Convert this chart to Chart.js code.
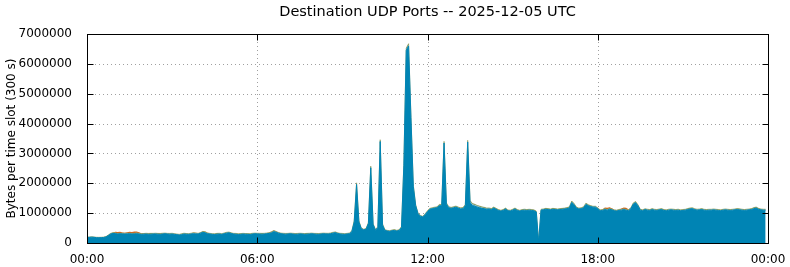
<!DOCTYPE html>
<html>
<head>
<meta charset="utf-8">
<script src="https://cdn.jsdelivr.net/npm/chart.js@4.4.1/dist/chart.umd.min.js"></script>
<style>
html, body { margin: 0; padding: 0; background: #fff; }
</style>
</head>
<body>
<canvas id="myChart" width="790" height="267"></canvas>
<script>
// 5-minute slots (288 per day), values in kilobytes per slot
const slotTicks = [0, 72, 144, 216, 288];
const tickLabels = ['00:00', '06:00', '12:00', '18:00', '00:00'];
const yTicks = [0, 1000000, 2000000, 3000000, 4000000, 5000000, 6000000, 7000000];

const blueK = [
  185,190,195,190,180,175,180,185,200,250,300,320,
  315,300,310,305,300,305,310,300,305,310,300,290,
  295,300,290,295,300,305,295,290,300,310,300,295,
  300,290,280,265,280,300,295,290,300,310,305,300,
  330,360,340,310,300,290,285,295,300,290,310,330,
  340,320,300,295,285,290,300,295,290,285,300,310,
  305,300,295,300,310,320,340,380,360,330,310,300,
  295,300,310,300,290,295,305,300,290,295,300,310,
  300,295,290,300,310,305,300,310,330,345,320,300,
  295,290,300,310,380,700,1960,700,480,440,460,650,
  2520,620,430,520,3400,600,420,400,390,410,420,400,
  420,520,2600,6450,6600,4200,1900,1250,980,900,870,950,
  1050,1130,1150,1170,1180,1250,1250,3350,1300,1180,1160,1180,
  1200,1170,1140,1150,1250,3380,1350,1250,1230,1200,1180,1160,
  1150,1130,1140,1120,1170,1130,1090,1070,1090,1140,1080,1070,
  1100,1140,1090,1070,1090,1100,1090,1100,1090,1080,1040,30,
  1100,1110,1130,1120,1110,1130,1120,1110,1120,1130,1140,1150,
  1180,1360,1280,1170,1140,1150,1180,1290,1250,1220,1200,1200,
  1150,1080,1090,1120,1100,1130,1110,1080,1070,1090,1100,1120,
  1100,1080,1150,1300,1350,1250,1100,1080,1120,1100,1090,1120,
  1100,1090,1110,1120,1090,1080,1100,1110,1100,1090,1100,1080,
  1090,1100,1120,1140,1150,1120,1100,1110,1120,1100,1090,1100,
  1100,1110,1100,1090,1080,1100,1110,1100,1090,1100,1110,1120,
  1110,1100,1090,1100,1110,1120,1150,1170,1130,1110,1100,1100
];

const skyK = [
  5,5,5,5,5,5,5,5,5,5,8,10,
  10,10,8,8,10,10,10,8,8,10,10,8,
  8,8,10,10,8,8,8,10,10,8,8,8,
  8,8,8,8,10,10,8,8,10,15,10,8,
  8,10,15,10,8,8,8,8,8,8,10,10,
  10,8,8,8,8,8,8,8,8,8,8,8,
  8,8,8,8,10,10,15,15,10,8,8,8,
  8,8,8,8,8,8,8,8,8,8,8,8,
  8,8,8,8,8,8,8,8,10,10,8,8,
  8,8,8,8,10,15,20,15,10,8,8,10,
  20,10,8,10,20,10,8,8,8,8,8,8,
  8,10,20,30,30,20,15,10,10,10,10,10,
  10,10,10,10,10,15,15,20,20,15,15,15,
  15,15,15,15,15,25,40,50,45,40,35,30,
  25,20,15,12,10,10,10,10,10,10,10,10,
  10,10,10,10,10,10,10,10,10,10,10,5,
  10,10,10,10,10,10,10,10,10,10,10,10,
  10,15,15,10,10,10,10,15,10,10,10,10,
  10,10,10,10,10,10,10,10,10,10,10,10,
  10,10,10,15,15,10,10,10,10,10,10,10,
  10,10,10,10,10,10,10,10,10,10,10,10,
  10,10,10,10,10,10,10,10,10,10,10,10,
  10,10,10,10,10,10,10,10,10,10,10,10,
  10,10,10,10,10,10,10,10,10,10,10,10
];

const greenK = [
  8,8,10,8,8,10,8,8,10,12,15,18,
  18,15,15,18,20,18,15,15,18,20,18,15,
  15,18,20,18,15,15,18,20,18,15,15,18,
  18,15,15,18,20,18,15,15,18,20,22,18,
  15,18,20,18,15,15,18,20,18,15,15,18,
  18,15,15,18,20,18,15,15,18,20,18,15,
  15,18,20,18,15,15,18,20,18,15,15,18,
  18,15,15,18,20,18,15,15,18,20,18,15,
  15,18,20,18,15,15,18,20,18,15,15,18,
  18,15,15,18,20,30,35,25,18,15,15,25,
  35,20,15,18,40,25,18,15,15,18,20,18,
  18,20,35,45,45,35,25,20,18,15,15,18,
  20,22,22,20,22,25,22,35,25,22,20,22,
  22,20,22,22,25,35,30,25,22,20,22,20,
  20,22,20,22,25,22,20,20,22,20,18,20,
  20,22,20,18,20,22,20,20,22,20,18,5,
  20,22,20,22,20,20,22,20,22,20,22,25,
  25,30,25,22,20,22,25,30,25,22,20,22,
  22,20,22,25,22,20,22,20,22,25,22,20,
  22,20,22,25,25,22,20,22,20,22,20,22,
  20,22,20,22,20,20,22,20,22,20,22,20,
  22,20,22,25,22,20,22,20,22,20,22,20,
  20,22,20,22,20,20,22,20,22,20,22,25,
  25,22,20,22,20,22,25,25,22,20,22,20
];

const orangeK = [
  0,0,0,0,0,0,0,0,0,0,0,5,
  30,45,40,20,10,25,40,45,50,45,30,10,
  5,5,10,5,0,0,5,10,5,0,0,0,
  0,0,0,0,0,0,0,0,0,5,5,0,
  0,5,10,5,0,0,0,0,0,0,0,0,
  0,0,0,0,0,0,0,0,0,0,0,0,
  0,0,0,0,0,5,10,10,5,0,0,0,
  0,0,0,0,0,0,0,0,0,0,0,0,
  0,0,0,0,0,0,0,0,5,5,0,0,
  0,0,0,0,0,5,10,5,0,0,0,0,
  10,0,0,0,20,5,0,0,0,0,0,0,
  0,0,5,10,10,5,0,0,0,0,0,0,
  0,0,0,0,0,0,0,5,0,0,0,0,
  0,0,0,0,0,5,0,0,0,0,0,0,
  0,0,0,0,0,0,0,0,0,0,0,0,
  0,0,0,0,0,0,0,0,0,0,0,0,
  0,0,0,0,0,0,0,0,0,0,0,0,
  0,0,0,0,0,0,0,0,0,0,0,0,
  0,0,0,30,45,40,25,5,0,0,20,40,
  45,20,0,0,0,0,0,0,0,0,0,0,
  0,0,0,0,0,0,0,0,0,0,0,0,
  0,0,0,0,0,0,0,0,0,0,0,0,
  0,0,0,0,0,0,0,0,0,0,0,0,
  0,0,0,0,0,0,0,0,0,0,0,0
];

function toPoints(arr) {
  return arr.map(function(v, i) { return { x: i, y: v * 1000 }; });
}

const FONT = "'DejaVu Sans', sans-serif";

// gnuplot-like frame: dotted grid, black border, inward ticks, titles
const frame = {
  id: 'frame',
  beforeDatasetsDraw: function(chart) {
    const ctx = chart.ctx, a = chart.chartArea;
    const xs = chart.scales.x, ys = chart.scales.y;
    ctx.save();
    ctx.strokeStyle = '#a0a0a0';
    ctx.lineWidth = 1;
    ctx.setLineDash([1, 3]);
    yTicks.slice(1, -1).forEach(function(v) {
      const py = Math.round(ys.getPixelForValue(v)) + 0.5;
      ctx.beginPath(); ctx.moveTo(a.left, py); ctx.lineTo(a.right, py); ctx.stroke();
    });
    slotTicks.slice(1, -1).forEach(function(v) {
      const px = Math.round(xs.getPixelForValue(v)) + 0.5;
      ctx.beginPath(); ctx.moveTo(px, a.top); ctx.lineTo(px, a.bottom); ctx.stroke();
    });
    ctx.restore();
  },
  afterDatasetsDraw: function(chart) {
    const ctx = chart.ctx, a = chart.chartArea;
    const xs = chart.scales.x, ys = chart.scales.y;
    const L = Math.round(a.left) + 0.5, R = Math.round(a.right) + 0.5;
    const T = Math.round(a.top) + 0.5, B = Math.round(a.bottom) + 0.5;
    ctx.save();
    ctx.strokeStyle = '#000';
    ctx.lineWidth = 1;
    ctx.beginPath();
    yTicks.forEach(function(v) {
      const py = Math.round(ys.getPixelForValue(v)) + 0.5;
      ctx.moveTo(L, py); ctx.lineTo(L + 6, py);
      ctx.moveTo(R, py); ctx.lineTo(R - 6, py);
    });
    slotTicks.forEach(function(v) {
      const px = Math.round(xs.getPixelForValue(v)) + 0.5;
      ctx.moveTo(px, B); ctx.lineTo(px, B - 6);
      ctx.moveTo(px, T); ctx.lineTo(px, T + 6);
    });
    ctx.stroke();
    ctx.strokeRect(L, T, R - L, B - T);
    ctx.restore();
  },
  afterDraw: function(chart) {
    const ctx = chart.ctx, a = chart.chartArea;
    ctx.save();
    ctx.fillStyle = '#000';
    ctx.textAlign = 'center';
    ctx.textBaseline = 'middle';
    ctx.font = '14.5px ' + FONT;
    ctx.fillText('Destination UDP Ports -- 2025-12-05 UTC', (a.left + a.right) / 2, 12);
    ctx.translate(12, (a.top + a.bottom) / 2);
    ctx.rotate(-Math.PI / 2);
    ctx.font = '12px ' + FONT;
    ctx.fillText('Bytes per time slot (300 s)', 0, 0);
    ctx.restore();
  }
};

document.addEventListener("DOMContentLoaded", function() {
  var ctx = document.getElementById('myChart').getContext('2d');
  new Chart(ctx, {
    type: 'line',
    data: {
      datasets: [
        { label: 'main', data: toPoints(blueK), backgroundColor: '#0084b4', borderColor: '#0084b4', borderWidth: 1, fill: 'origin' },
        { label: 'sky', data: toPoints(skyK), backgroundColor: '#6fb0c8', borderColor: '#6fb0c8', borderWidth: 0, fill: '-1' },
        { label: 'green', data: toPoints(greenK), backgroundColor: '#7a8f4a', borderColor: '#7a8f4a', borderWidth: 0.6, fill: '-1' },
        { label: 'orange', data: toPoints(orangeK), backgroundColor: '#d8641c', borderColor: 'rgba(0,0,0,0)', borderWidth: 0, fill: '-1' }
      ]
    },
    options: {
      responsive: false,
      animation: false,
      layout: { padding: { left: 0, right: 22, top: 34, bottom: 0 } },
      elements: { point: { radius: 0 }, line: { tension: 0 } },
      plugins: { legend: { display: false }, tooltip: { enabled: false }, title: { display: false } },
      scales: {
        x: {
          type: 'linear',
          min: 0,
          max: 288,
          grid: { display: false },
          border: { display: false },
          afterFit: function(s) { s.height = 24; },
          afterBuildTicks: function(s) { s.ticks = slotTicks.map(function(v) { return { value: v }; }); },
          ticks: {
            autoSkip: false,
            maxRotation: 0,
            padding: 2,
            color: '#000',
            font: { family: FONT, size: 12 },
            callback: function(v) { return tickLabels[slotTicks.indexOf(v)]; }
          }
        },
        y: {
          stacked: true,
          min: 0,
          max: 7000000,
          grid: { display: false },
          border: { display: false },
          afterFit: function(s) { s.width = 87; },
          afterBuildTicks: function(s) { s.ticks = yTicks.map(function(v) { return { value: v }; }); },
          ticks: {
            padding: 7,
            color: '#000',
            font: { family: FONT, size: 12 },
            callback: function(v) { return String(v); }
          }
        }
      }
    },
    plugins: [frame]
  });
});
</script>
</body>
</html>
